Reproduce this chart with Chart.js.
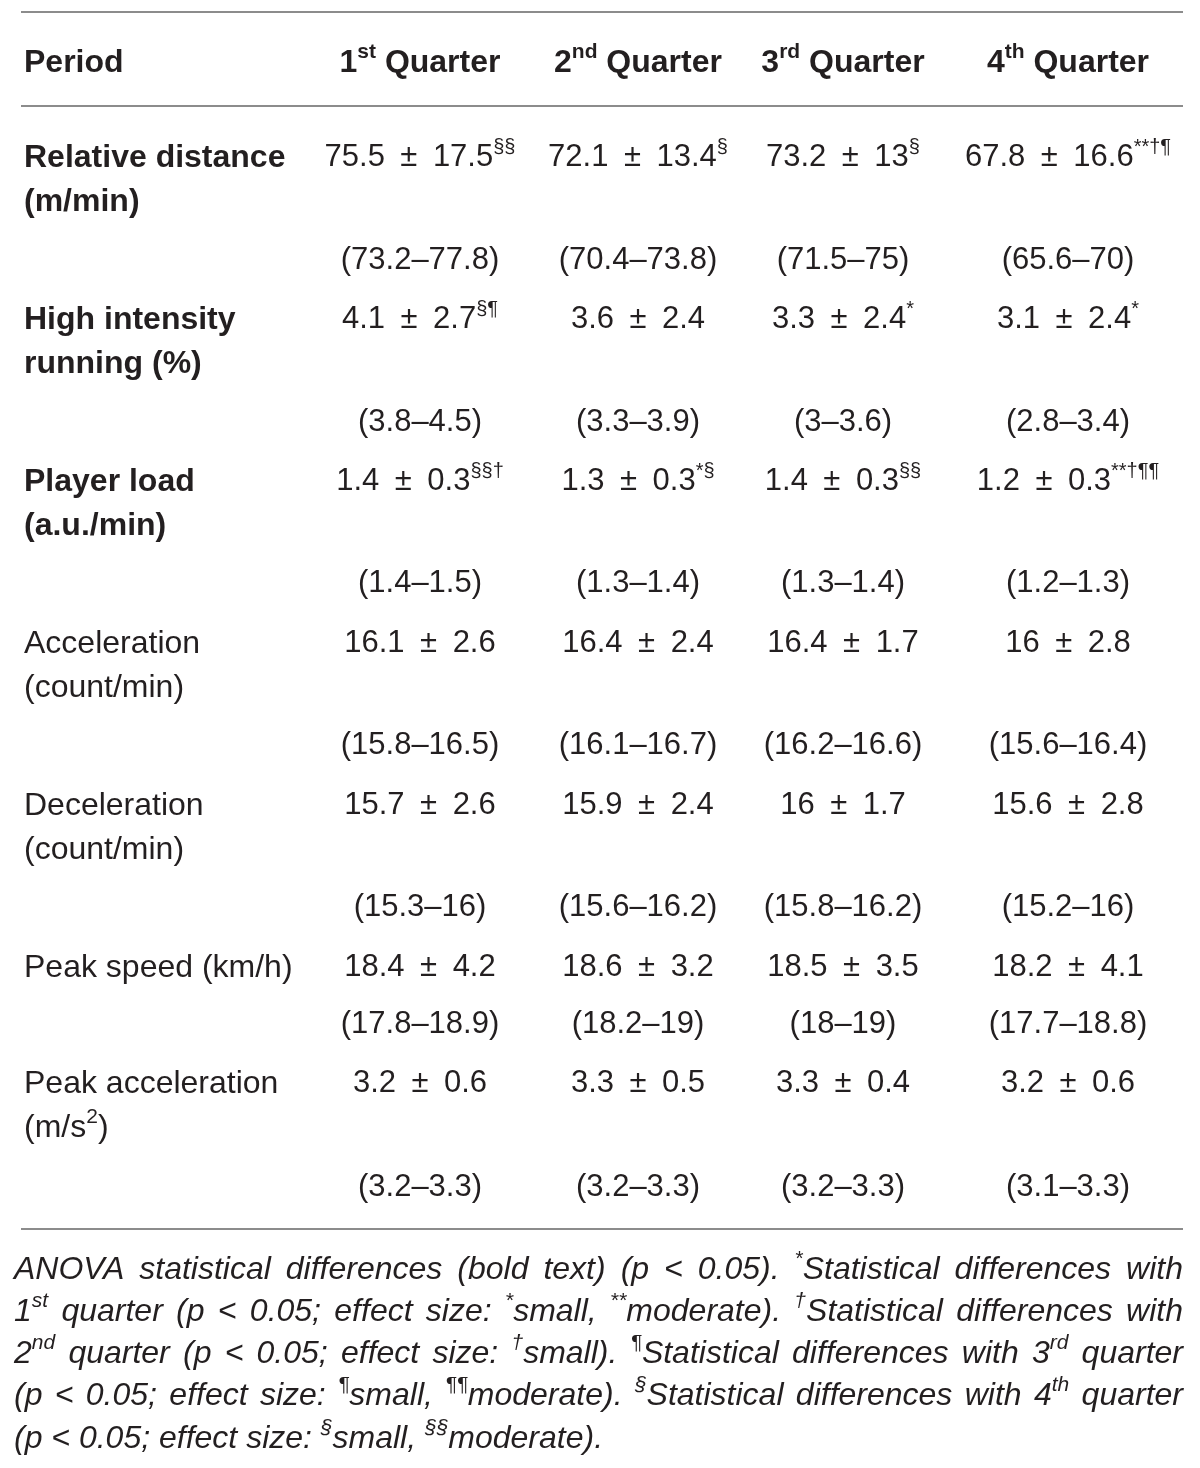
<!DOCTYPE html>
<html>
<head>
<meta charset="utf-8">
<script src="https://cdn.jsdelivr.net/npm/chart.js@4.4.0/dist/chart.umd.min.js"></script>
<style>
  body { margin: 0; background: #fff; }
  #tabela { display: block; }
</style>
</head>
<body>
<canvas id="tabela" width="1200" height="1468"></canvas>
<script>
// dados da tabela
const quarters = ['1', '2', '3', '4'];
const ordinals = ['st', 'nd', 'rd', 'th'];
const variables = [
  ['Relative distance', '(m/min)'],
  ['High intensity', 'running (%)'],
  ['Player load', '(a.u./min)'],
  ['Acceleration', '(count/min)'],
  ['Deceleration', '(count/min)'],
  ['Peak speed (km/h)'],
  ['Peak acceleration', '(m/s^{2})']
];
const anovaSig = [true, true, true, false, false, false, false];

const q1Mean = [75.5, 4.1, 1.4, 16.1, 15.7, 18.4, 3.2];
const q1Sd = [17.5, 2.7, 0.3, 2.6, 2.6, 4.2, 0.6];
const q1Lo = [73.2, 3.8, 1.4, 15.8, 15.3, 17.8, 3.2];
const q1Hi = [77.8, 4.5, 1.5, 16.5, 16, 18.9, 3.3];
const q1Marks = ['§§', '§¶', '§§†', '', '', '', ''];

const q2Mean = [72.1, 3.6, 1.3, 16.4, 15.9, 18.6, 3.3];
const q2Sd = [13.4, 2.4, 0.3, 2.4, 2.4, 3.2, 0.5];
const q2Lo = [70.4, 3.3, 1.3, 16.1, 15.6, 18.2, 3.2];
const q2Hi = [73.8, 3.9, 1.4, 16.7, 16.2, 19, 3.3];
const q2Marks = ['§', '', '*§', '', '', '', ''];

const q3Mean = [73.2, 3.3, 1.4, 16.4, 16, 18.5, 3.3];
const q3Sd = [13, 2.4, 0.3, 1.7, 1.7, 3.5, 0.4];
const q3Lo = [71.5, 3, 1.3, 16.2, 15.8, 18, 3.2];
const q3Hi = [75, 3.6, 1.4, 16.6, 16.2, 19, 3.3];
const q3Marks = ['§', '*', '§§', '', '', '', ''];

const q4Mean = [67.8, 3.1, 1.2, 16, 15.6, 18.2, 3.2];
const q4Sd = [16.6, 2.4, 0.3, 2.8, 2.8, 4.1, 0.6];
const q4Lo = [65.6, 2.8, 1.2, 15.6, 15.2, 17.7, 3.1];
const q4Hi = [70, 3.4, 1.3, 16.4, 16, 18.8, 3.3];
const q4Marks = ['**†¶', '*', '**†¶¶', '', '', '', ''];

const footnote = [
  'ANOVA statistical differences (bold text) (p < 0.05). ^{*}Statistical differences with',
  '1^{st} quarter (p < 0.05; effect size: ^{*}small, ^{**}moderate). ^{†}Statistical differences with',
  '2^{nd} quarter (p < 0.05; effect size: ^{†}small). ^{¶}Statistical differences with 3^{rd} quarter',
  '(p < 0.05; effect size: ^{¶}small, ^{¶¶}moderate). ^{§}Statistical differences with 4^{th} quarter',
  '(p < 0.05; effect size: ^{§}small, ^{§§}moderate).'
];

const means = [q1Mean, q2Mean, q3Mean, q4Mean];
const sds = [q1Sd, q2Sd, q3Sd, q4Sd];
const los = [q1Lo, q2Lo, q3Lo, q4Lo];
const his = [q1Hi, q2Hi, q3Hi, q4Hi];
const marks = [q1Marks, q2Marks, q3Marks, q4Marks];

// layout (posições na escala 0-1200 x 0-1468)
const colX = [24, 420, 638, 843, 1068];
const headerY = 60;
const meanY = [155, 317, 479, 641, 803, 965, 1081];
const ciY = [258, 420, 581, 743, 905, 1022, 1185];
const line2Gap = 44;
const rulesY = [12, 106, 1229];
const footY = [1267, 1309, 1351, 1393, 1436];
const fam = '"Liberation Sans", Arial, sans-serif';
const cor = '#231f20';

// "1^{st}" -> segmentos
function parse(txt) {
  const segs = [];
  const re = /\^\{([^}]*)\}/g;
  let last = 0, m;
  while ((m = re.exec(txt)) !== null) {
    if (m.index > last) segs.push({ t: txt.slice(last, m.index), sup: false });
    segs.push({ t: m[1], sup: true });
    last = re.lastIndex;
  }
  if (last < txt.length) segs.push({ t: txt.slice(last), sup: false });
  return segs;
}

function fontStr(f, sup) {
  const size = sup ? Math.round(f.size * 0.66) : f.size;
  return `${f.style || 'normal'} ${f.weight || 'normal'} ${size}px ${fam}`;
}

function widthOf(ctx, segs, f) {
  let w = 0;
  segs.forEach(s => { ctx.font = fontStr(f, s.sup); w += ctx.measureText(s.t).width; });
  return w;
}

function drawRich(ctx, segs, x, yMid, align, f) {
  const w = widthOf(ctx, segs, f);
  let cx = align === 'center' ? x - w / 2 : x;
  const base = yMid + f.size * 0.36;
  ctx.textAlign = 'left';
  ctx.textBaseline = 'alphabetic';
  segs.forEach(s => {
    ctx.font = fontStr(f, s.sup);
    ctx.fillText(s.t, cx, s.sup ? base - f.size * 0.42 : base);
    cx += ctx.measureText(s.t).width;
  });
}

const tablePlugin = {
  id: 'tablePlugin',
  afterDraw(chart) {
    const ctx = chart.ctx;
    const X = v => chart.scales.x.getPixelForValue(v);
    const Y = v => chart.scales.y.getPixelForValue(v);
    const nums = { size: 31 };
    const label = { size: 32 };
    const bold = { size: 32, weight: 'bold' };
    const ital = { size: 32, style: 'italic' };
    ctx.save();
    ctx.fillStyle = cor;

    // linhas
    ctx.strokeStyle = '#8c8c8c';
    ctx.lineWidth = 2;
    rulesY.forEach(r => {
      ctx.beginPath();
      ctx.moveTo(X(21), Y(r));
      ctx.lineTo(X(1183), Y(r));
      ctx.stroke();
    });

    // cabeçalho
    drawRich(ctx, [{ t: 'Period' }], X(colX[0]), Y(headerY), 'left', bold);
    quarters.forEach((q, i) => {
      const segs = [{ t: q }, { t: ordinals[i], sup: true }, { t: ' Quarter' }];
      drawRich(ctx, segs, X(colX[i + 1]), Y(headerY), 'center', bold);
    });

    // linhas de dados
    variables.forEach((v, r) => {
      const f = anovaSig[r] ? bold : label;
      v.forEach((line, k) => {
        drawRich(ctx, parse(line), X(colX[0]), Y(meanY[r] + k * line2Gap), 'left', f);
      });
      quarters.forEach((q, c) => {
        const segs = [{ t: `${means[c][r]}\u2002±\u2002${sds[c][r]}` }];
        if (marks[c][r]) segs.push({ t: marks[c][r], sup: true });
        drawRich(ctx, segs, X(colX[c + 1]), Y(meanY[r]), 'center', nums);
        drawRich(ctx, [{ t: `(${los[c][r]}–${his[c][r]})` }], X(colX[c + 1]), Y(ciY[r]), 'center', nums);
      });
    });

    // nota de rodapé justificada
    const left = X(14), right = X(1183);
    footnote.forEach((line, i) => {
      const words = line.split(' ').map(parse);
      const ws = words.map(w => widthOf(ctx, w, ital));
      const total = ws.reduce((a, b) => a + b, 0);
      ctx.font = fontStr(ital, false);
      let gap = ctx.measureText(' ').width;
      if (i < footnote.length - 1) gap = (right - left - total) / (words.length - 1);
      let cx = left;
      words.forEach((w, k) => {
        drawRich(ctx, w, cx, Y(footY[i]), 'left', ital);
        cx += ws[k] + gap;
      });
    });
    ctx.restore();
  }
};

new Chart(document.getElementById('tabela'), {
  type: 'scatter',
  data: { datasets: [] },
  options: {
    responsive: false,
    animation: false,
    layout: { padding: 0 },
    plugins: {
      legend: { display: false },
      tooltip: { enabled: false }
    },
    scales: {
      x: { type: 'linear', min: 0, max: 1200, display: false },
      y: { type: 'linear', min: 0, max: 1468, reverse: true, display: false }
    }
  },
  plugins: [tablePlugin]
});
</script>
</body>
</html>
